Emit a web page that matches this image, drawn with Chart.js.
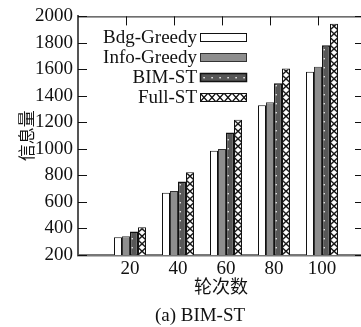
<!DOCTYPE html>
<html>
<head>
<meta charset="utf-8">
<script src="https://cdn.jsdelivr.net/npm/chart.js@4.4.0/dist/chart.umd.min.js"></script>
<style>
  html, body { margin: 0; padding: 0; background: #fff; overflow: hidden; }
  #wrap { position: relative; width: 372px; height: 327px; }
  #caption { position: absolute; left: 0; top: 304px; width: 400px; text-align: center;
             font: 19px "Liberation Serif", serif; line-height: 21px; color: #111; }
</style>
</head>
<body>
<div id="wrap">
  <canvas id="infoChart" width="372" height="327"></canvas>
  <div id="caption">(a) BIM-ST</div>
</div>
<script>
// rounds (x) and information amount per method
const rounds = [20, 40, 60, 80, 100];
const seriesNames = ['Bdg-Greedy', 'Info-Greedy', 'BIM-ST', 'Full-ST'];
const bdgGreedy = [333, 670, 987, 1330, 1582];
const infoGreedy = [342, 682, 1000, 1352, 1620];
const bimST = [378, 755, 1125, 1495, 1782];
const fullST = [410, 825, 1220, 1607, 1945];
const yTicks = [200, 400, 600, 800, 1000, 1200, 1400, 1600, 1800, 2000];

const serif = '"Liberation Serif", "Times New Roman", serif';
const cjk = '"Noto Sans CJK SC", sans-serif';

// fill patterns
function tile(w, h, paint) {
  const c = document.createElement('canvas');
  c.width = w; c.height = h;
  paint(c.getContext('2d'));
  return c;
}
const ctx = document.getElementById('infoChart').getContext('2d');

const dotTile = tile(8, 9, g => {
  g.fillStyle = '#575757'; g.fillRect(0, 0, 8, 9);
  g.fillStyle = '#fff'; g.fillRect(3.4, 4, 1.4, 1.4);
});
const dotPattern = ctx.createPattern(dotTile, 'repeat');

const crossTile = tile(8, 15, g => {
  g.fillStyle = '#fff'; g.fillRect(0, 0, 8, 15);
  g.strokeStyle = '#111'; g.lineWidth = 1.3;
  g.beginPath();
  g.moveTo(0, 0); g.lineTo(8, 7.5); g.lineTo(0, 15);
  g.moveTo(8, 0); g.lineTo(0, 7.5); g.lineTo(8, 15);
  g.stroke();
});
const crossPattern = ctx.createPattern(crossTile, 'repeat');

// legend swatch uses the hatch turned sideways
const crossTileH = tile(16, 9, g => {
  g.fillStyle = '#fff'; g.fillRect(0, 0, 16, 9);
  g.strokeStyle = '#111'; g.lineWidth = 1.3;
  g.beginPath();
  g.moveTo(0, 0); g.lineTo(8, 9); g.lineTo(16, 0);
  g.moveTo(0, 9); g.lineTo(8, 0); g.lineTo(16, 9);
  g.stroke();
});
const crossPatternH = ctx.createPattern(crossTileH, 'repeat');

const fills = ['#ffffff', '#8e8e8e', dotPattern, crossPattern];
const borders = ['#111', '#333', '#111', '#111'];
const widths = [1, 1, 1.5, 1];
const values = [bdgGreedy, infoGreedy, bimST, fullST];

const frameAndLegend = {
  id: 'frameAndLegend',
  beforeDatasetsDraw(chart) {
    // line the hatch up with the bars
    const bar = chart.getDatasetMeta(3).data[0];
    if (bar) crossPattern.setTransform(new DOMMatrix().translate(bar.x - bar.width / 2, 0));
  },
  afterDraw(chart) {
    const {ctx, chartArea: a, scales: {x, y}} = chart;
    ctx.save();
    ctx.strokeStyle = '#111';
    ctx.lineWidth = 1;
    ctx.beginPath();
    ctx.moveTo(a.left, a.top + 0.5); ctx.lineTo(a.right, a.top + 0.5);
    ctx.moveTo(a.right - 0.5, a.top); ctx.lineTo(a.right - 0.5, a.bottom);
    x.ticks.forEach(t => {
      const px = Math.round(x.getPixelForValue(t.value)) - 3.5;
      ctx.moveTo(px, a.top); ctx.lineTo(px, a.top + 9);
    });
    y.ticks.forEach(t => {
      const py = Math.round(y.getPixelForValue(t.value)) + 0.5;
      ctx.moveTo(a.left, py); ctx.lineTo(a.left + 9, py);
      ctx.moveTo(a.right - 9, py); ctx.lineTo(a.right, py);
    });
    ctx.stroke();

    // legend: text on the left, swatch on the right
    ctx.font = '19px ' + serif;
    ctx.textAlign = 'right';
    ctx.textBaseline = 'middle';
    chart.data.datasets.forEach((ds, i) => {
      const cy = a.top + 21 + 20 * i;
      const bx = a.left + 122, by = Math.round(cy - 4.5);
      ctx.fillStyle = '#111';
      ctx.fillText(ds.label, a.left + 119, cy + 1);
      ctx.save();
      ctx.translate(bx, by);
      ctx.fillStyle = i === 3 ? crossPatternH : fills[i];
      ctx.fillRect(0, 0, 47, 9);
      ctx.strokeStyle = borders[i];
      ctx.lineWidth = widths[i];
      ctx.strokeRect(0.5, 0.5, 46, 8);
      ctx.restore();
    });
    ctx.restore();
  }
};

new Chart(ctx, {
  type: 'bar',
  data: {
    labels: rounds,
    datasets: seriesNames.map((name, i) => ({
      label: name,
      data: values[i],
      backgroundColor: fills[i],
      borderColor: borders[i],
      borderWidth: widths[i],
      borderSkipped: 'bottom',
      categoryPercentage: 0.667,
      barPercentage: 1
    }))
  },
  options: {
    responsive: false,
    animation: false,
    layout: { padding: { top: 15, right: 8, bottom: 30, left: 0 } },
    plugins: { legend: { display: false }, tooltip: { enabled: false } },
    scales: {
      x: {
        type: 'linear',
        offset: false,
        min: -1.667,
        max: 117.5,
        afterBuildTicks: s => { s.ticks = rounds.map(v => ({ value: v })); },
        afterFit: s => { s.height = 42; },
        grid: { display: false, drawTicks: false, offset: false },
        border: { color: '#777', width: 2.5 },
        ticks: { color: '#111', padding: 3, font: { family: serif, size: 19 },
                 callback: v => String(v) },
        title: { display: true, text: '轮次数', color: '#111', padding: 0,
                 font: { family: cjk, size: 18 } }
      },
      y: {
        min: 200,
        max: 2000,
        afterBuildTicks: s => { s.ticks = yTicks.map(v => ({ value: v })); },
        afterFit: s => { s.width = 78; },
        grid: { display: false, drawTicks: false },
        border: { color: '#555', width: 2 },
        ticks: { color: '#111', padding: 5, font: { family: serif, size: 19 },
                 callback: v => String(v) },
        title: { display: true, text: '信息量', color: '#111', padding: { top: 16 },
                 font: { family: cjk, size: 17 } }
      }
    }
  },
  plugins: [frameAndLegend]
});
</script>
</body>
</html>
